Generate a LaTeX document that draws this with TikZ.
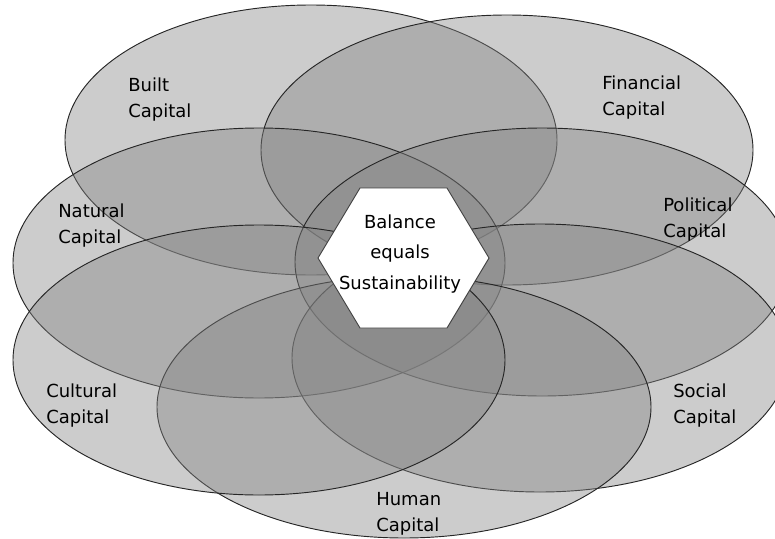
\documentclass[tikz,border=0pt]{standalone}
\usepackage{fontspec}
\setmainfont{DejaVu Sans}
\usepackage{tikz}
\definecolor{ringgray}{RGB}{131,131,131}
\tikzset{
	capital/.style={fill=ringgray, fill opacity=0.41, draw=black!85, line width=0.7pt},
	caplabel/.style={anchor=base west, inner sep=0pt, align=left, font=\fontsize{13.5pt}{19.5pt}\selectfont},
}

\begin{document}
\begin{tikzpicture}[x=0.75pt, y=-0.75pt]
			%%%%% START %%%%%
			
			\useasboundingbox (0, 0) rectangle (775, 539);
			\clip (0, 0) rectangle (775, 539);
			
			\draw[capital] (311, 140) ellipse [x radius=246, y radius=135];
			\draw[capital] (507, 150) ellipse [x radius=246, y radius=135];
			\draw[capital] (259, 263) ellipse [x radius=246, y radius=135];
			\draw[capital] (542, 262) ellipse [x radius=247, y radius=134];
			\draw[capital] (540, 358) ellipse [x radius=248, y radius=134];
			\draw[capital] (404, 407) ellipse [x radius=247, y radius=131];
			\draw[capital] (259, 360) ellipse [x radius=246, y radius=135];
			
			\draw[fill=white, draw=black!75, line width=0.7pt]
				(360, 188) -- (447, 188) -- (489, 258) -- (447, 328) -- (360, 328) -- (318, 258) -- cycle;
			\node[align=center, inner sep=0pt, font=\fontsize{13.5pt}{23pt}\selectfont] (hub) at (400, 254) {Balance\\equals\\Sustainability};
			
			% base of a label = baseline of its last line
			\node[caplabel] (built) at (128, 117) {Built\\Capital};
			\node[caplabel] (financial) at (602, 115) {Financial\\Capital};
			\node[caplabel] (natural) at (58, 243) {Natural\\Capital};
			\node[caplabel] (political) at (663, 237) {Political\\Capital};
			\node[caplabel] (cultural) at (46, 423) {Cultural\\Capital};
			\node[caplabel] (social) at (673, 423) {Social\\Capital};
			\node[caplabel] (human) at (376, 531) {Human\\Capital};
			
			%%%%% END %%%%%
\end{tikzpicture}
\end{document}
